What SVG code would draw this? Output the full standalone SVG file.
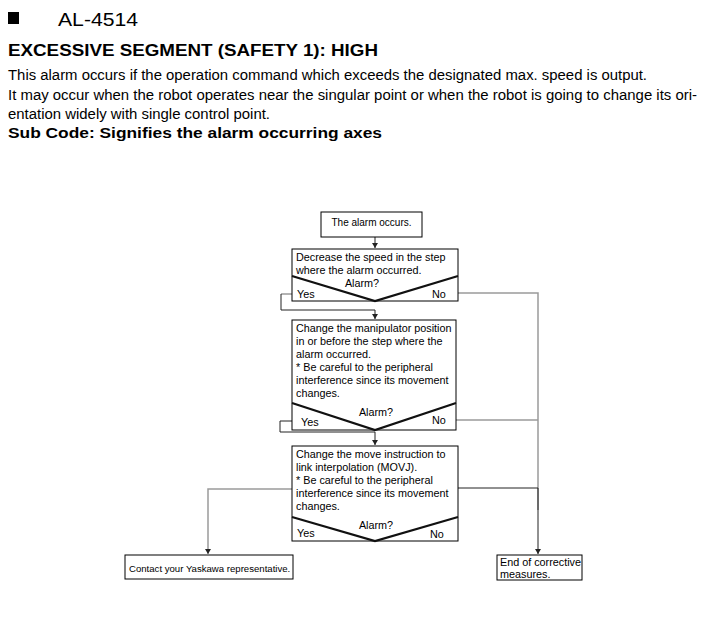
<svg xmlns="http://www.w3.org/2000/svg" width="716" height="634" viewBox="0 0 716 634">
<defs>
<marker id="arr" markerWidth="6" markerHeight="6" refX="5" refY="3" orient="auto" markerUnits="userSpaceOnUse">
<path d="M0,0 L5,3 L0,6 Z" fill="#222"/>
</marker>
</defs>
<style>
text{font-family:"Liberation Sans",Arial,sans-serif;fill:#000}
.h{font-size:14px}
.b{font-weight:bold}
.t{font-size:10.8px}
.s{font-size:10px}
.box{fill:#fff;stroke:#000;stroke-width:1}
.v{fill:none;stroke:#111;stroke-width:2.2}
.k{fill:none;stroke:#222;stroke-width:1}
.g{fill:none;stroke:#9a9a9a;stroke-width:1.5}
</style>
<rect width="716" height="634" fill="#fff"/>
<rect x="8" y="12" width="11" height="12" fill="#000"/>
<text x="58" y="26" style="font-size:19px" textLength="80" lengthAdjust="spacingAndGlyphs">AL-4514</text>
<text x="8" y="56" class="b" style="font-size:16px" textLength="370" lengthAdjust="spacingAndGlyphs">EXCESSIVE SEGMENT (SAFETY 1): HIGH</text>
<text x="8" y="80" class="h" textLength="639" lengthAdjust="spacingAndGlyphs">This alarm occurs if the operation command which exceeds the designated max. speed is output.</text>
<text x="8" y="100" class="h" textLength="689" lengthAdjust="spacingAndGlyphs">It may occur when the robot operates near the singular point or when the robot is going to change its ori-</text>
<text x="8" y="119" class="h" textLength="262" lengthAdjust="spacingAndGlyphs">entation widely with single control point.</text>
<text x="8" y="138" class="h b" textLength="374" lengthAdjust="spacingAndGlyphs">Sub Code: Signifies the alarm occurring axes</text>

<g id="connectors">
<path class="k" d="M375,237 V248" marker-end="url(#arr)"/>
<path class="g" d="M292,294 H281"/>
<path class="k" d="M281,294 V310 H375 V319" marker-end="url(#arr)"/>
<path class="g" d="M458,293 H538 V510"/>
<path class="g" d="M456,420 H538"/>
<path class="k" d="M292,421 H280 V432 H375 V445" marker-end="url(#arr)"/>
<path class="k" d="M458,488 H538 V554" marker-end="url(#arr)"/>
<path class="g" d="M292,489 H208 V554" marker-end="url(#arr)"/>
</g>

<g id="start">
<rect class="box" x="321" y="212" width="101" height="25"/>
<text class="s" x="371.5" y="226" text-anchor="middle">The alarm occurs.</text>
</g>

<g id="step1">
<rect class="box" x="292" y="249" width="166" height="52"/>
<polyline class="v" points="292,276 375,301 458,276"/>
<text class="t" x="296" y="261">Decrease the speed in the step</text>
<text class="t" x="296" y="274">where the alarm occurred.</text>
<text class="t" x="362" y="287" text-anchor="middle">Alarm?</text>
<text class="t" x="297" y="298">Yes</text>
<text class="t" x="432" y="298">No</text>
</g>

<g id="step2">
<rect class="box" x="292" y="320" width="164" height="110"/>
<polyline class="v" points="292,403 375,430 456,403"/>
<text class="t" x="296" y="332">Change the manipulator position</text>
<text class="t" x="296" y="345">in or before the step where the</text>
<text class="t" x="296" y="358">alarm occurred.</text>
<text class="t" x="296" y="371">* Be careful to the peripheral</text>
<text class="t" x="296" y="384">interference since its movement</text>
<text class="t" x="296" y="397">changes.</text>
<text class="t" x="376" y="416" text-anchor="middle">Alarm?</text>
<text class="t" x="301" y="426">Yes</text>
<text class="t" x="432" y="424">No</text>
</g>

<g id="step3">
<rect class="box" x="292" y="446" width="166" height="95"/>
<polyline class="v" points="292,517 375,541 458,517"/>
<text class="t" x="296" y="458">Change the move instruction to</text>
<text class="t" x="296" y="471">link interpolation (MOVJ).</text>
<text class="t" x="296" y="484">* Be careful to the peripheral</text>
<text class="t" x="296" y="497">interference since its movement</text>
<text class="t" x="296" y="510">changes.</text>
<text class="t" x="376" y="529" text-anchor="middle">Alarm?</text>
<text class="t" x="297" y="537">Yes</text>
<text class="t" x="430" y="538">No</text>
</g>

<g id="contact">
<rect class="box" x="125" y="555" width="168" height="24"/>
<text x="129" y="572" style="font-size:9.6px">Contact your Yaskawa representative.</text>
</g>

<g id="end">
<rect class="box" x="497" y="555" width="85" height="25"/>
<text class="t" x="500" y="566">End of corrective</text>
<text class="t" x="500" y="578">measures.</text>
</g>
</svg>
